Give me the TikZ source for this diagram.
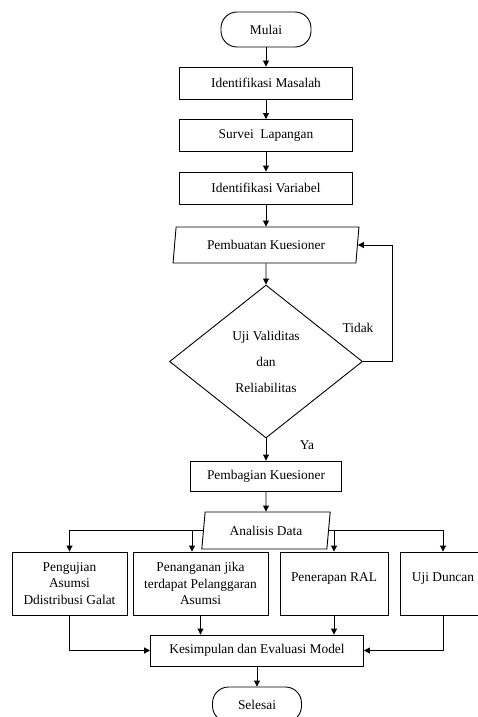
\documentclass[tikz,border=0pt]{standalone}
\usepackage{fontspec}
\setmainfont{Liberation Serif}
\usetikzlibrary{shapes.geometric,arrows.meta}

\begin{document}
\begin{tikzpicture}[x=1pt,y=-1pt,line width=0.9pt,
  >={Triangle[length=6pt,width=6pt]},
  every node/.style={font=\fontsize{13.4}{16.5}\selectfont},
  proses/.style={draw,rectangle,inner sep=0pt,align=center},
  terminal/.style={draw,rectangle,rounded corners=16pt,inner sep=0pt,
    minimum width=90pt,minimum height=35pt},
  dataio/.style={draw,trapezium,trapezium stretches=true,inner sep=0pt,
    trapezium left angle=78,trapezium right angle=102},
  keputusan/.style={draw,diamond,inner sep=0pt,align=center,
    minimum width=193pt,minimum height=153pt,
    font=\fontsize{13.4}{26}\selectfont}]
  \useasboundingbox (0,0) rectangle (478,717);
  % alur utama
  \node[terminal] (mulai) at (266,29.5) {Mulai};
  \node[proses,minimum width=173pt,minimum height=32pt] (idm) at (266,83) {Identifikasi Masalah};
  \node[proses,minimum width=173pt,minimum height=32pt] (survei) at (266,135.5) {Survei\ \ Lapangan};
  \node[proses,minimum width=173pt,minimum height=32pt] (idv) at (266,188) {Identifikasi Variabel};
  \node[dataio,minimum width=186pt,minimum height=36pt] (pk) at (266,245) {Pembuatan Kuesioner};
  \node[keputusan] (uji) at (266,361.5) {Uji Validitas\\dan\\Reliabilitas};
  \node (tidak) at (358,328) {Tidak};
  \node (ya) at (307,445) {Ya};
  \node[proses,minimum width=151pt,minimum height=30pt] (bagi) at (266,476) {Pembagian Kuesioner};
  \node[dataio,minimum width=129pt,minimum height=37pt] (ad) at (266,530.5) {Analisis Data};
  % cabang analisis
  \node[proses,minimum width=115pt,minimum height=63pt] (b1) at (69.5,583.5) {Pengujian\\Asumsi\\Ddistribusi Galat};
  \node[proses,minimum width=135pt,minimum height=63pt] (b2) at (200.5,583.5) {Penanganan jika\\terdapat Pelanggaran\\Asumsi};
  \node[proses,minimum width=108pt,minimum height=63pt,
    label={[yshift=5pt]center:Penerapan RAL}] (b3) at (334,583.5) {};
  \node[proses,minimum width=86pt,minimum height=63pt,
    label={[yshift=5pt]center:Uji Duncan}] (b4) at (443,583.5) {};
  \node[proses,minimum width=213pt,minimum height=31pt] (kes) at (257,650.5) {Kesimpulan dan Evaluasi Model};
  \node[terminal,minimum width=89pt] (selesai) at (257,704.5) {Selesai};
  % panah
  \draw[->] (mulai) -- (idm);
  \draw[->] (idm) -- (survei);
  \draw[->] (survei) -- (idv);
  \draw[->] (idv) -- (pk);
  \draw[->] (pk) -- (uji);
  \draw[->] (uji.east) -- ++(29,0) |- (pk.east);
  \draw[->] (uji) -- (bagi);
  \draw[->] (bagi) -- (ad);
  \draw[->] (ad.west) -| (b1.north);
  \draw[->] ([xshift=-8.5pt]b2.north |- ad.west) -- ([xshift=-8.5pt]b2.north);
  \draw[->] (ad.east) -| (b4.north);
  \draw[->] (ad.east -| b3.north) -- (b3.north);
  \draw[->] (b1.south) |- (kes.west);
  \draw[->] (b2.south) -- (b2.south |- kes.north);
  \draw[->] (b3.south) -- (b3.south |- kes.north);
  \draw[->] (b4.south) |- (kes.east);
  \draw[->] (kes) -- (selesai);
\end{tikzpicture}
\end{document}
